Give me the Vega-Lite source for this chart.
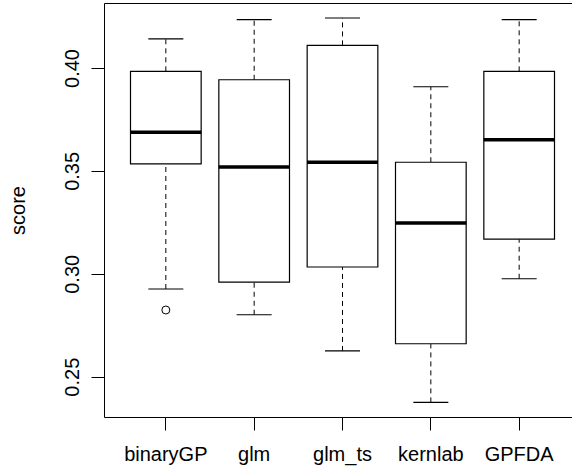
{
  "$schema": "https://vega.github.io/schema/vega-lite/v6.json",
  "width": 477,
  "height": 414,
  "autosize": "none",
  "padding": {"left": 104, "top": 3, "right": 0, "bottom": 53},
  "background": "white",
  "config": {
    "view": {"stroke": "black", "strokeWidth": 1},
    "font": "Liberation Sans",
    "axis": {"grid": false, "domain": false, "tickColor": "black", "tickWidth": 1, "tickSize": 13, "labelColor": "black", "labelFontSize": 20, "titleFontSize": 20, "titleFontWeight": "normal", "titleColor": "black", "labelFont": "Liberation Sans", "titleFont": "Liberation Sans"}
  },
  "datasets": {
    "stats": [
      {"method": "binaryGP", "lower": 0.2926, "q1": 0.3534, "median": 0.3688, "q3": 0.3984, "upper": 0.4142},
      {"method": "glm", "lower": 0.2801, "q1": 0.2959, "median": 0.3519, "q3": 0.3943, "upper": 0.4235},
      {"method": "glm_ts", "lower": 0.2625, "q1": 0.3033, "median": 0.3542, "q3": 0.4110, "upper": 0.4243},
      {"method": "kernlab", "lower": 0.2375, "q1": 0.2660, "median": 0.3247, "q3": 0.3542, "upper": 0.3909},
      {"method": "GPFDA", "lower": 0.2976, "q1": 0.3168, "median": 0.3652, "q3": 0.3984, "upper": 0.4235}
    ],
    "outliers": [
      {"method": "binaryGP", "value": 0.2824}
    ]
  },
  "data": {"name": "stats"},
  "encoding": {
    "x": {
      "field": "method", "type": "nominal", "sort": null,
      "scale": {"domain": ["binaryGP", "glm", "glm_ts", "kernlab", "GPFDA"], "paddingInner": 0, "paddingOuter": 0.2},
      "axis": {"title": null, "labelAngle": 0, "labelPadding": 14}
    }
  },
  "layer": [
    {
      "mark": {"type": "rule", "strokeDash": [5, 4], "color": "black", "strokeWidth": 1, "opacity": 1},
      "encoding": {
        "y": {"field": "q3", "type": "quantitative", "scale": {"domain": [0.2304, 0.4316], "nice": false, "zero": false},
          "axis": {"title": "score", "values": [0.25, 0.3, 0.35, 0.4], "format": ".2f", "labelAngle": 270, "labelAlign": "center", "labelBaseline": "bottom", "labelPadding": 9, "titlePadding": 34}},
        "y2": {"field": "upper"}
      }
    },
    {
      "mark": {"type": "rule", "strokeDash": [5, 4], "color": "black", "strokeWidth": 1, "opacity": 1},
      "encoding": {
        "y": {"field": "lower", "type": "quantitative"},
        "y2": {"field": "q1"}
      }
    },
    {
      "mark": {"type": "tick", "color": "black", "size": 35, "thickness": 1.2, "opacity": 1},
      "encoding": {"y": {"field": "upper", "type": "quantitative"}}
    },
    {
      "mark": {"type": "tick", "color": "black", "size": 35, "thickness": 1.2, "opacity": 1},
      "encoding": {"y": {"field": "lower", "type": "quantitative"}}
    },
    {
      "mark": {"type": "bar", "fill": "white", "stroke": "black", "strokeWidth": 1.2, "width": {"band": 0.8}, "opacity": 1},
      "encoding": {
        "y": {"field": "q1", "type": "quantitative"},
        "y2": {"field": "q3"}
      }
    },
    {
      "mark": {"type": "tick", "color": "black", "size": 71, "thickness": 3.5, "opacity": 1},
      "encoding": {"y": {"field": "median", "type": "quantitative"}}
    },
    {
      "data": {"name": "outliers"},
      "mark": {"type": "point", "shape": "circle", "filled": false, "stroke": "black", "strokeWidth": 1, "size": 64, "opacity": 1},
      "encoding": {"y": {"field": "value", "type": "quantitative"}}
    }
  ]
}
